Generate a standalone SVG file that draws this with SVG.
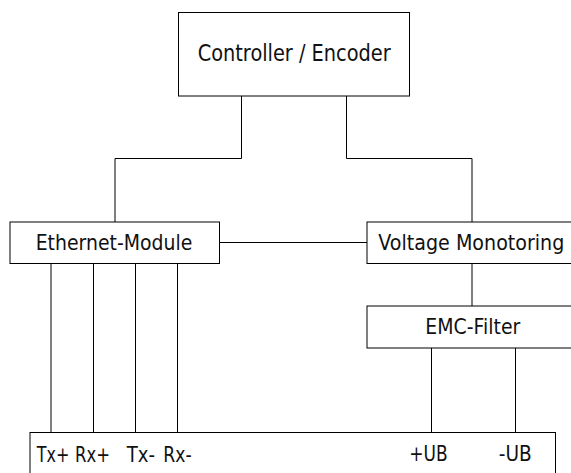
<svg xmlns="http://www.w3.org/2000/svg" width="571" height="473" viewBox="0 0 571 473">
<style>
.box{fill:#fff;stroke:#000;stroke-width:1}
.wire{fill:none;stroke:#000;stroke-width:1}
text{font-family:"DejaVu Sans",sans-serif;font-size:21px;fill:#111}
.big{font-size:23.5px}
</style>
<rect width="571" height="473" fill="#fff"/>
<g id="connectors">
<path class="wire" d="M241.5 96 V158.5 H115 V222"/>
<path class="wire" d="M346.5 96 V158.5 H472 V222"/>
<path class="wire" d="M219 242.5 H367"/>
<path class="wire" d="M472 263 V306"/>
<path class="wire" d="M51 263 V432"/>
<path class="wire" d="M93.5 263 V432"/>
<path class="wire" d="M135.5 263 V432"/>
<path class="wire" d="M177.5 263 V432"/>
<path class="wire" d="M431.5 348 V432"/>
<path class="wire" d="M515.5 348 V432"/>
</g>
<g id="controller">
<rect class="box" x="178.5" y="12.5" width="231" height="83.5"/>
<text class="big" x="197.7" y="61" textLength="193" lengthAdjust="spacingAndGlyphs">Controller / Encoder</text>
</g>
<g id="ethernet">
<rect class="box" x="10" y="222" width="209.5" height="41.5"/>
<text x="35.7" y="250" textLength="156.6" lengthAdjust="spacingAndGlyphs">Ethernet-Module</text>
</g>
<g id="voltage">
<rect class="box" x="367" y="222" width="210" height="41.5"/>
<text x="378.3" y="250" textLength="186" lengthAdjust="spacingAndGlyphs">Voltage Monotoring</text>
</g>
<g id="emc">
<rect class="box" x="367" y="306" width="210" height="42"/>
<text x="425.3" y="334.3" textLength="95" lengthAdjust="spacingAndGlyphs">EMC-Filter</text>
</g>
<g id="connector-block">
<rect class="box" x="30" y="432.5" width="525.5" height="50"/>
<text x="36.7" y="461.5" textLength="32.6" lengthAdjust="spacingAndGlyphs">Tx+</text>
<text x="75" y="461.5" textLength="35" lengthAdjust="spacingAndGlyphs">Rx+</text>
<text x="126.7" y="461.5" textLength="28.3" lengthAdjust="spacingAndGlyphs">Tx-</text>
<text x="163.3" y="461.5" textLength="28.4" lengthAdjust="spacingAndGlyphs">Rx-</text>
<text x="409.3" y="461" textLength="38.4" lengthAdjust="spacingAndGlyphs">+UB</text>
<text x="498.7" y="461" textLength="33" lengthAdjust="spacingAndGlyphs">-UB</text>
</g>
</svg>
